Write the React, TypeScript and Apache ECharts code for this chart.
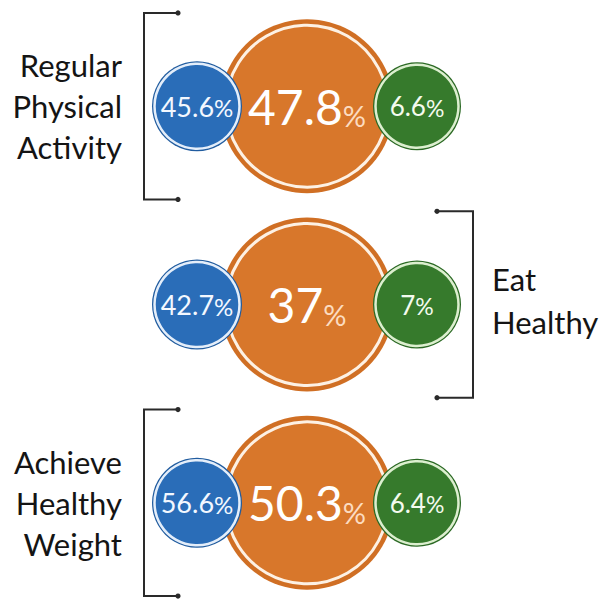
import React, { useEffect, useRef } from 'react';
import * as echarts from 'echarts';

const categories = ['Regular Physical Activity', 'Eat Healthy', 'Achieve Healthy Weight'];
const labelLines = [['Regular', 'Physical', 'Activity'], ['Eat', 'Healthy'], ['Achieve', 'Healthy', 'Weight']];
const labelSides = ['left', 'right', 'left'];
const groups = ['Blue', 'Orange', 'Green'];
const blueValues = [45.6, 42.7, 56.6];
const orangeValues = [47.8, 37, 50.3];
const greenValues = [6.6, 7, 6.4];

const FONT = 'Lato, "Open Sans", sans-serif';

function richFor(vSize: number, pSize: number, vColor: string, pColor: string) {
  return {
    v: { fontSize: vSize, lineHeight: vSize, color: vColor, fontFamily: FONT, verticalAlign: 'bottom' },
    p: {
      fontSize: pSize,
      lineHeight: 0.3 * vSize + 0.7 * pSize,
      color: pColor,
      fontFamily: FONT,
      verticalAlign: 'bottom',
    },
  };
}

function circleSeries(
  name: string,
  xIndex: number,
  values: number[],
  outerSize: number,
  innerSize: number,
  fill: string,
  edge: string,
  ring: string,
  ringWidth: number,
  rich: any
) {
  const data = values.map((v, i) => ({ value: [xIndex, i], raw: v }));
  return [
    {
      name: name + ' edge',
      type: 'scatter',
      symbol: 'circle',
      symbolSize: outerSize,
      data,
      itemStyle: { color: edge, opacity: 1 },
      silent: true,
    },
    {
      name,
      type: 'scatter',
      symbol: 'circle',
      symbolSize: innerSize,
      data,
      itemStyle: { color: fill, borderColor: ring, borderWidth: ringWidth, opacity: 1 },
      label: {
        show: true,
        position: 'inside',
        formatter: (p: any) => `{v|${p.data.raw}}{p|%}`,
        rich,
      },
      silent: true,
    },
  ];
}

export default function App() {
  const ref = useRef<HTMLDivElement>(null);
  useEffect(() => {
    const chart = echarts.init(ref.current!, null, { renderer: 'svg' });
    const option: any = {
      animation: false,
      backgroundColor: '#ffffff',
      grid: { left: 142, width: 330, top: 7, height: 602 },
      xAxis: { type: 'category', data: groups, show: false, boundaryGap: true },
      yAxis: { type: 'category', data: categories, show: false, inverse: true, boundaryGap: true },
      series: [
        ...circleSeries('Orange', 1, orangeValues, 174, 162, '#d8772b', '#d06f24', '#fdf1e4', 3,
          richFor(48, 29, '#ffffff', '#fcdcc0')),
        ...circleSeries('Blue', 0, blueValues, 90, 85, '#2a6db8', '#215c9f', '#e4eefa', 2.5,
          richFor(27, 24, '#f3f8ff', '#f3f8ff')),
        ...circleSeries('Green', 2, greenValues, 88, 83, '#367a2c', '#2b6924', '#dcefcf', 2.5,
          richFor(26, 23, '#f4fbef', '#f4fbef')),
      ],
    };
    chart.setOption(option);

    const p0 = chart.convertToPixel({ gridIndex: 0 }, [0, 0]) as number[];
    const p1 = chart.convertToPixel({ gridIndex: 0 }, [1, 1]) as number[];
    const p2 = chart.convertToPixel({ gridIndex: 0 }, [2, 0]) as number[];
    const bandW = p1[0] - p0[0];
    const pitch = p1[1] - p0[1];
    const leftEdge = p0[0] - bandW / 2;
    const rightEdge = p2[0] + bandW / 2;
    const half = pitch * 0.47;

    const graphics: any[] = [];
    categories.forEach((_c, i) => {
      const y = (chart.convertToPixel({ gridIndex: 0 }, [1, i]) as number[])[1];
      const side = labelSides[i];
      const top = y - half;
      const bottom = y + half;
      const lineStyle = { stroke: '#2a2a2a', lineWidth: 2, fill: null };
      if (side === 'left') {
        const bx = leftEdge + 2;
        const ex = leftEdge + 36;
        graphics.push({
          type: 'polyline',
          shape: { points: [[ex, top], [bx, top], [bx, bottom], [ex, bottom]] },
          style: lineStyle,
        });
        graphics.push({ type: 'circle', shape: { cx: ex, cy: top, r: 2.6 }, style: { fill: '#2a2a2a' } });
        graphics.push({ type: 'circle', shape: { cx: ex, cy: bottom, r: 2.6 }, style: { fill: '#2a2a2a' } });
        graphics.push({
          type: 'text',
          x: leftEdge - 20,
          y: y,
          style: {
            text: labelLines[i].join('\n'),
            font: `31px ${FONT}`,
            fill: '#141414',
            align: 'right',
            verticalAlign: 'middle',
            lineHeight: 41,
          },
        });
      } else {
        const bx = rightEdge + 1;
        const ex = rightEdge - 35;
        graphics.push({
          type: 'polyline',
          shape: { points: [[ex, top], [bx, top], [bx, bottom], [ex, bottom]] },
          style: lineStyle,
        });
        graphics.push({ type: 'circle', shape: { cx: ex, cy: top, r: 2.6 }, style: { fill: '#2a2a2a' } });
        graphics.push({ type: 'circle', shape: { cx: ex, cy: bottom, r: 2.6 }, style: { fill: '#2a2a2a' } });
        graphics.push({
          type: 'text',
          x: rightEdge + 20,
          y: y - 4,
          style: {
            text: labelLines[i].join('\n'),
            font: `31px ${FONT}`,
            fill: '#141414',
            align: 'left',
            verticalAlign: 'middle',
            lineHeight: 43,
          },
        });
      }
    });
    chart.setOption({ graphic: graphics });

    return () => chart.dispose();
  }, []);

  return (
    <div
      ref={ref}
      style={{ position: 'fixed', left: 0, top: 0, width: 606, height: 602, background: '#ffffff' }}
    />
  );
}
